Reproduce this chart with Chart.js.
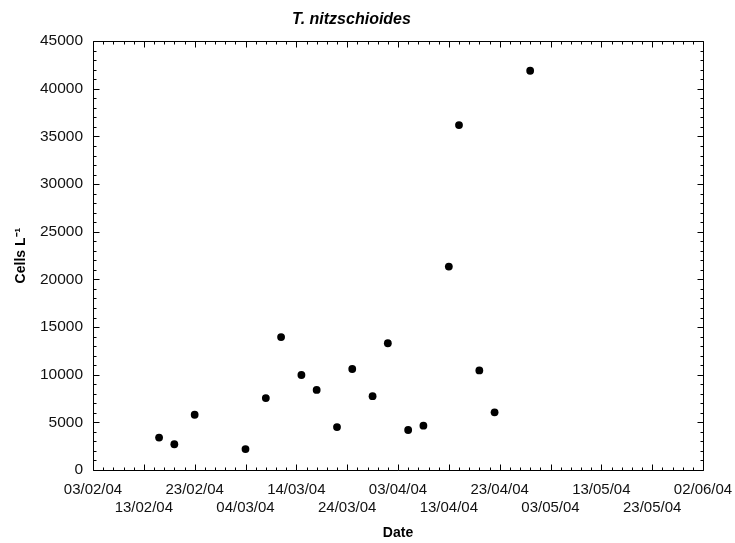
<!DOCTYPE html>
<html>
<head>
<meta charset="utf-8">
<script src="https://cdn.jsdelivr.net/npm/chart.js@4/dist/chart.umd.min.js"></script>
<style>
  html, body { margin: 0; padding: 0; background: #fff; }
  #wrap { width: 735px; height: 543px; position: relative; }
</style>
</head>
<body>
<div id="wrap"><canvas id="c" width="735" height="543"></canvas></div>
<script>
// ---- data ----
const startDate = '2004-02-03';
const endDate = '2004-06-02';
const sampleDates = ['2004-02-16','2004-02-19','2004-02-23','2004-03-04','2004-03-08','2004-03-11',
  '2004-03-15','2004-03-18','2004-03-22','2004-03-25','2004-03-29','2004-04-01','2004-04-05',
  '2004-04-08','2004-04-13','2004-04-15','2004-04-19','2004-04-22','2004-04-29'];
const cellsPerLitre = [3400, 2700, 5800, 2200, 7550, 13950, 9970, 8400, 4500, 10600, 7750, 13300,
  4200, 4650, 21350, 36200, 10450, 6050, 41900];
const yTicksStep = 5000;
const yMax = 45000;
const xTickStepDays = 10;

// ---- helpers ----
const DAY = 86400000;
function toUTC(s){ const [y,m,d] = s.split('-').map(Number); return Date.UTC(y, m-1, d); }
const t0 = toUTC(startDate);
const totalDays = Math.round((toUTC(endDate) - t0) / DAY);
function dayOffset(s){ return Math.round((toUTC(s) - t0) / DAY); }
function fmt(day){
  const d = new Date(t0 + day * DAY);
  const p = n => String(n).padStart(2, '0');
  return p(d.getUTCDate()) + '/' + p(d.getUTCMonth()+1) + '/' + p(d.getUTCFullYear() % 100);
}
const points = sampleDates.map((s, i) => ({ x: dayOffset(s), y: cellsPerLitre[i] }));

const frameTicks = {
  id: 'frameTicks',
  afterDraw(chart){
    const {ctx, chartArea: a, scales} = chart;
    const xs = scales.x, ys = scales.y;
    ctx.save();
    ctx.strokeStyle = '#000';
    ctx.lineWidth = 1;
    const L = Math.round(a.left) + 0.5, R = Math.round(a.right) + 0.5;
    const T = Math.round(a.top) + 0.5, B = Math.round(a.bottom) + 0.5;
    ctx.beginPath();
    ctx.rect(L, T, R - L, B - T);
    for (let d = 0; d <= totalDays; d += 2) {
      const px = Math.round(xs.getPixelForValue(d)) + 0.5;
      const len = d % xTickStepDays === 0 ? 6 : 3;
      ctx.moveTo(px, B); ctx.lineTo(px, B - len);
      ctx.moveTo(px, T); ctx.lineTo(px, T + len);
    }
    for (let v = 0; v <= yMax; v += 1000) {
      const py = Math.round(ys.getPixelForValue(v)) + 0.5;
      const len = v % yTicksStep === 0 ? 6 : 3;
      ctx.moveTo(L, py); ctx.lineTo(L + len, py);
      ctx.moveTo(R, py); ctx.lineTo(R - len, py);
    }
    ctx.stroke();
    ctx.restore();
  }
};

const FONT = 'Liberation Sans, Arial, sans-serif';
Chart.defaults.font.family = FONT;
Chart.defaults.color = '#111';

new Chart(document.getElementById('c'), {
  type: 'scatter',
  data: {
    datasets: [{
      data: points,
      backgroundColor: '#000',
      borderColor: '#000',
      pointRadius: 3.9,
      pointHoverRadius: 3.9,
      borderWidth: 0
    }]
  },
  options: {
    responsive: false,
    animation: false,
    events: [],
    layout: { padding: { left: 0, right: 32, top: 0, bottom: 0 } },
    plugins: {
      legend: { display: false },
      tooltip: { enabled: false },
      title: {
        display: true,
        text: 'T. nitzschioides',
        color: '#000',
        font: { size: 16, weight: 'bold', style: 'italic', family: FONT, lineHeight: 1.2 },
        padding: { top: 10, bottom: 12 }
      }
    },
    scales: {
      x: {
        type: 'linear',
        min: 0,
        max: totalDays,
        grid: { display: false },
        border: { display: false },
        afterFit(s){ s.height = 73; s.paddingLeft = 0; s.paddingRight = 0; },
        ticks: {
          stepSize: xTickStepDays,
          padding: 2,
          maxRotation: 0,
          autoSkip: false,
          color: '#111',
          font: { size: 15, lineHeight: 1.25 },
          callback(v, i){ const lab = fmt(v); return (i % 2 === 0) ? [lab, ''] : ['', lab]; }
        },
        title: {
          display: true,
          text: 'Date',
          color: '#000',
          font: { size: 14, weight: 'bold', lineHeight: 1.2 },
          padding: { top: 0, bottom: 1 }
        }
      },
      y: {
        min: 0,
        max: yMax,
        grid: { display: false },
        border: { display: false },
        afterFit(s){ s.width = 93; },
        ticks: {
          stepSize: yTicksStep,
          padding: 2,
          color: '#111',
          font: { size: 15.5 },
          callback(v){ return String(v); }
        },
        title: {
          display: true,
          text: 'Cells L\u207B\u00B9',
          color: '#000',
          font: { size: 14, weight: 'bold', lineHeight: 1.2 },
          padding: { top: 13, bottom: 0 }
        }
      }
    }
  },
  plugins: [frameTicks]
});
</script>
</body>
</html>
